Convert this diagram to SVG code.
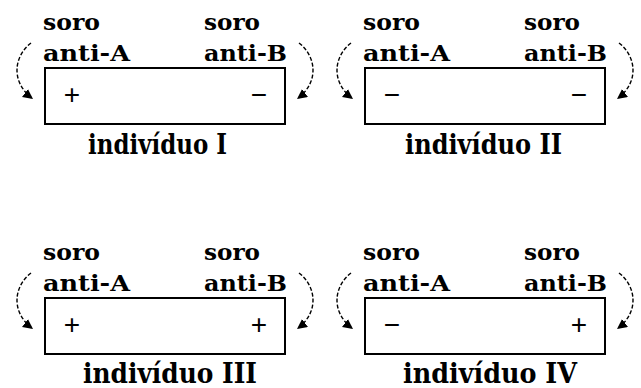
<svg xmlns="http://www.w3.org/2000/svg" width="641" height="388" viewBox="0 0 641 388">
<style>
.lbl{font-family:"DejaVu Serif","Liberation Serif",serif;font-weight:bold;font-size:23px;fill:#000}
.ind{font-family:"DejaVu Serif","Liberation Serif",serif;font-weight:bold;font-size:27px;fill:#000}
.sg{font-family:"Liberation Sans",Arial,sans-serif;font-size:28px;fill:#000;text-anchor:middle}
.box{fill:#fff;stroke:#000;stroke-width:2}
.arc{fill:none;stroke:#000;stroke-width:1.4;stroke-dasharray:4 2}
</style>
<defs>
<marker id="ah" markerUnits="userSpaceOnUse" markerWidth="11" markerHeight="11" refX="10" refY="5" orient="auto">
<path d="M0,0 L10,5 L0,10 z" fill="#000"/>
</marker>
<g id="panel">
<rect class="box" x="45" y="68" width="240" height="56"/>
<text class="lbl" x="43" y="30" textLength="57" lengthAdjust="spacingAndGlyphs">soro</text>
<text class="lbl" x="204" y="30" textLength="56" lengthAdjust="spacingAndGlyphs">soro</text>
</g>
</defs>
<rect width="641" height="388" fill="#fff"/>
<g id="connectors">
<path class="arc" d="M31,43 C14,56 10,82 33,99" marker-end="url(#ah)"/>
<path class="arc" d="M299,43 C316,56 320,82 297,99" marker-end="url(#ah)"/>
<path class="arc" d="M351,43 C334,56 330,82 353,99" marker-end="url(#ah)"/>
<path class="arc" d="M619,43 C636,56 640,82 617,99" marker-end="url(#ah)"/>
<path class="arc" d="M31,273 C14,286 10,312 33,329" marker-end="url(#ah)"/>
<path class="arc" d="M299,273 C316,286 320,312 297,329" marker-end="url(#ah)"/>
<path class="arc" d="M351,273 C334,286 330,312 353,329" marker-end="url(#ah)"/>
<path class="arc" d="M619,273 C636,286 640,312 617,329" marker-end="url(#ah)"/>
</g>
<g id="individuo-I">
<use href="#panel"/>
<text class="lbl" x="43" y="61" textLength="87" lengthAdjust="spacingAndGlyphs">anti-A</text>
<text class="lbl" x="204" y="61" textLength="83" lengthAdjust="spacingAndGlyphs">anti-B</text>
<text class="sg" x="72" y="104">+</text>
<text class="sg" x="259" y="104">−</text>
<text class="ind" x="88" y="154" textLength="139" lengthAdjust="spacingAndGlyphs">indivíduo I</text>
</g>
<g id="individuo-II" transform="translate(320,0)">
<use href="#panel"/>
<text class="lbl" x="43" y="61" textLength="87" lengthAdjust="spacingAndGlyphs">anti-A</text>
<text class="lbl" x="204" y="61" textLength="83" lengthAdjust="spacingAndGlyphs">anti-B</text>
<text class="sg" x="72" y="104">−</text>
<text class="sg" x="259" y="104">−</text>
<text class="ind" x="85" y="154" textLength="157" lengthAdjust="spacingAndGlyphs">indivíduo II</text>
</g>
<g id="individuo-III" transform="translate(0,230)">
<use href="#panel"/>
<text class="lbl" x="43" y="61" textLength="87" lengthAdjust="spacingAndGlyphs">anti-A</text>
<text class="lbl" x="204" y="61" textLength="83" lengthAdjust="spacingAndGlyphs">anti-B</text>
<text class="sg" x="72" y="104">+</text>
<text class="sg" x="259" y="104">+</text>
<text class="ind" x="83" y="153" textLength="174" lengthAdjust="spacingAndGlyphs">indivíduo III</text>
</g>
<g id="individuo-IV" transform="translate(320,230)">
<use href="#panel"/>
<text class="lbl" x="43" y="61" textLength="87" lengthAdjust="spacingAndGlyphs">anti-A</text>
<text class="lbl" x="204" y="61" textLength="83" lengthAdjust="spacingAndGlyphs">anti-B</text>
<text class="sg" x="72" y="104">−</text>
<text class="sg" x="259" y="104">+</text>
<text class="ind" x="83" y="153" textLength="174" lengthAdjust="spacingAndGlyphs">indivíduo IV</text>
</g>
</svg>
